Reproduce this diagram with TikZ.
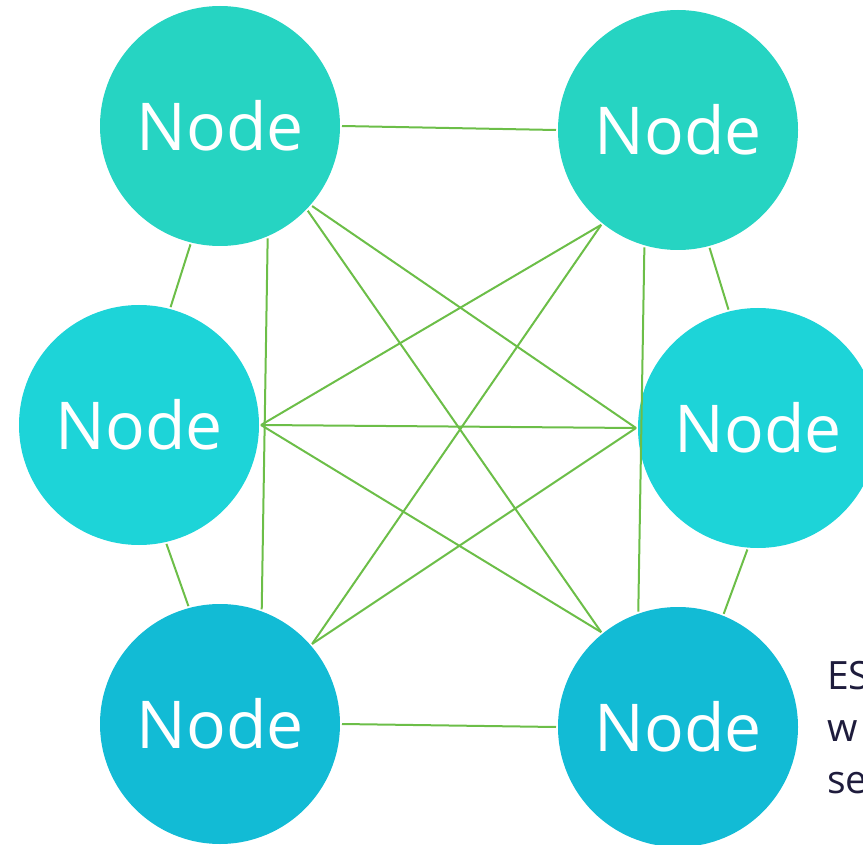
\documentclass[tikz,border=0pt]{standalone}
\usepackage{fontspec}
\setmainfont{Open Sans}
\definecolor{tealtop}{RGB}{38,212,194}
\definecolor{tealmid}{RGB}{29,212,216}
\definecolor{tealbot}{RGB}{18,187,213}
\definecolor{linkgreen}{RGB}{108,190,72}
\definecolor{inkdark}{RGB}{30,28,60}
\tikzset{
  peer/.style={circle, minimum size=240pt, inner sep=0pt, outer sep=2pt,
    text=white, font=\fontsize{66}{70}\selectfont},
  link/.style={draw=linkgreen, line width=2pt},
}
\begin{document}
\begin{tikzpicture}[x=1pt, y=-1pt]
  \useasboundingbox (0,0) rectangle (863,845);
  \clip (0,0) rectangle (863,845);

  % six peers
  \node[peer, fill=tealtop] (tl) at (220,126) {Node};
  \node[peer, fill=tealtop] (tr) at (678,130) {Node};
  \node[peer, fill=tealmid] (ml) at (139,425) {Node};
  \node[peer, fill=tealmid] (mr) at (758,428) {Node};
  \node[peer, fill=tealbot] (bl) at (220,724) {Node};
  \node[peer, fill=tealbot] (br) at (678,727) {Node};

  % outer ring
  \draw[link] (tl.0)    -- (tr.180);
  \draw[link] (bl.0)    -- (br.180);
  \draw[link] (tl.-104) -- (ml.75);
  \draw[link] (ml.-77)  -- (bl.105);
  \draw[link] (tr.-75)  -- (mr.104);
  \draw[link] (mr.-95)  -- (br.68);

  % near-vertical links
  \draw[link] (tl.-67)  -- (bl.70);
  \draw[link] (tr.-106) -- (br.109);

  % crossing links
  \draw[link] (tl.-41)  -- (mr.180);
  \draw[link] (tl.-44)  -- (br.129);
  \draw[link] (tr.-129) -- (ml.0);
  \draw[link] (tr.-129) -- (bl.41);
  \draw[link] (ml.0)    -- (mr.180);
  \draw[link] (ml.0)    -- (br.129);
  \draw[link] (mr.180)  -- (bl.41);

  % side caption, running past the right edge
  \node[anchor=base west, align=left, text=inkdark, inner sep=0pt,
        font=\fontsize{39}{52}\selectfont] (cap) at (827,793)
        {ES\\w\\se};
\end{tikzpicture}
\end{document}
